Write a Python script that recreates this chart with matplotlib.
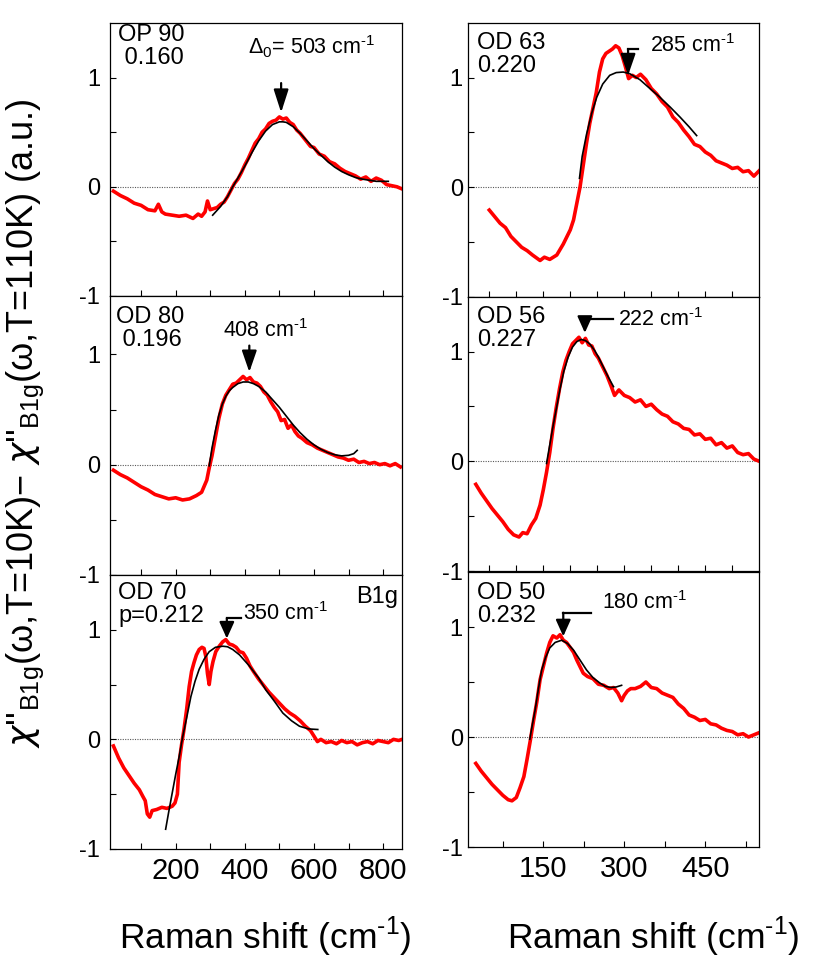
import matplotlib.pyplot as plt
from matplotlib.ticker import FixedLocator

plt.rcParams['font.family'] = ['Liberation Sans', 'DejaVu Sans']
plt.rcParams['mathtext.fontset'] = 'custom'
plt.rcParams['mathtext.rm'] = 'Liberation Sans'
plt.rcParams['mathtext.it'] = 'DejaVu Sans:italic'
plt.rcParams['mathtext.bf'] = 'Liberation Sans:bold'

# OP 90 (top left)
op90_x = [20, 40, 60, 80, 100, 120, 140, 150, 160, 170, 190, 210, 230, 250, 265, 275, 285, 292,
          300, 310, 320, 330, 340, 350, 360, 370, 380, 390, 400, 410, 420, 430, 440, 450, 460,
          470, 480, 490, 500, 510, 520, 530, 540, 550, 560, 570, 580, 590, 600, 615, 630, 645,
          660, 675, 690, 705, 720, 735, 750, 765, 780, 795, 810, 825, 840, 855]
op90_y = [-0.04, -0.08, -0.11, -0.15, -0.17, -0.21, -0.22, -0.16, -0.23, -0.25, -0.26, -0.27,
          -0.26, -0.29, -0.25, -0.27, -0.23, -0.13, -0.21, -0.20, -0.19, -0.16, -0.14, -0.09,
          -0.03, 0.03, 0.07, 0.13, 0.20, 0.26, 0.33, 0.40, 0.44, 0.50, 0.53, 0.58, 0.60, 0.61,
          0.64, 0.62, 0.63, 0.59, 0.57, 0.52, 0.49, 0.45, 0.41, 0.37, 0.36, 0.30, 0.28, 0.23,
          0.21, 0.17, 0.14, 0.12, 0.10, 0.07, 0.09, 0.05, 0.08, 0.06, 0.02, 0.01, 0.0, -0.02]
op90_fit_x = [307, 330, 350, 365, 380, 400, 420, 440, 460, 480, 500, 510, 520, 540, 560, 580,
              600, 620, 640, 660, 680, 700, 720, 740, 760, 780, 800, 815]
op90_fit_y = [-0.26, -0.18, -0.09, 0.0, 0.08, 0.19, 0.31, 0.42, 0.51, 0.57, 0.595, 0.595, 0.59,
              0.55, 0.49, 0.42, 0.35, 0.29, 0.23, 0.18, 0.14, 0.11, 0.085, 0.07, 0.06, 0.05,
              0.05, 0.05]

# OD 80 (middle left)
od80_x = [20, 40, 60, 80, 100, 120, 140, 160, 180, 200, 220, 240, 260, 275, 290, 297, 305, 315,
          325, 335, 345, 355, 365, 375, 385, 395, 405, 415, 425, 435, 445, 455, 465, 475, 485,
          495, 505, 515, 525, 535, 545, 555, 565, 580, 595, 610, 625, 640, 655, 670, 685, 700,
          715, 730, 745, 760, 775, 790, 805, 820, 835, 850]
od80_y = [-0.05, -0.09, -0.12, -0.16, -0.20, -0.23, -0.27, -0.29, -0.31, -0.30, -0.32, -0.31,
          -0.28, -0.25, -0.14, -0.03, 0.08, 0.25, 0.42, 0.55, 0.63, 0.68, 0.73, 0.74, 0.77,
          0.80, 0.77, 0.79, 0.75, 0.74, 0.71, 0.66, 0.63, 0.57, 0.52, 0.48, 0.40, 0.41, 0.33,
          0.36, 0.30, 0.26, 0.24, 0.20, 0.18, 0.15, 0.13, 0.11, 0.09, 0.07, 0.06, 0.04, 0.05,
          0.02, 0.03, 0.01, 0.02, 0.0, 0.01, -0.01, 0.01, -0.02]
od80_fit_x = [297, 305, 315, 325, 335, 345, 355, 365, 380, 395, 410, 425, 440, 460, 480, 500,
              520, 540, 560, 580, 600, 620, 640, 660, 680, 700, 715, 725]
od80_fit_y = [-0.01, 0.15, 0.31, 0.45, 0.55, 0.62, 0.67, 0.70, 0.735, 0.75, 0.75, 0.735, 0.71,
              0.66, 0.59, 0.52, 0.44, 0.36, 0.29, 0.23, 0.18, 0.14, 0.11, 0.09, 0.08, 0.085,
              0.10, 0.13]

# OD 70 (bottom left)
od70_x = [20, 35, 50, 65, 80, 95, 105, 112, 118, 125, 132, 145, 160, 175, 190, 198, 205, 210,
          217, 224, 232, 239, 246, 253, 260, 268, 276, 282, 287, 292, 297, 302, 308, 316, 326,
          336, 345, 355, 365, 375, 385, 395, 405, 415, 425, 440, 455, 470, 485, 500, 515, 530,
          545, 560, 575, 590, 600, 610, 620, 635, 650, 665, 680, 695, 710, 725, 740, 755, 770,
          785, 800, 815, 830, 845, 855]
od70_y = [-0.06, -0.17, -0.26, -0.33, -0.40, -0.46, -0.52, -0.56, -0.68, -0.71, -0.65, -0.64,
          -0.62, -0.63, -0.61, -0.58, -0.50, -0.21, -0.05, 0.09, 0.28, 0.48, 0.62, 0.70, 0.77,
          0.82, 0.84, 0.83, 0.76, 0.60, 0.50, 0.62, 0.71, 0.80, 0.85, 0.89, 0.91, 0.87, 0.86,
          0.84, 0.80, 0.79, 0.74, 0.67, 0.62, 0.55, 0.49, 0.43, 0.38, 0.33, 0.28, 0.24, 0.21,
          0.17, 0.12, 0.08, 0.03, -0.02, 0.0, -0.03, -0.02, -0.04, -0.01, -0.03, -0.02, -0.05,
          -0.03, -0.02, -0.04, -0.01, -0.02, -0.03, 0.0, -0.01, 0.0]
od70_fit_x = [171, 180, 190, 200, 210, 220, 232, 244, 256, 268, 282, 297, 315, 336, 350, 365,
              385, 413, 440, 461, 485, 510, 535, 558, 585, 611]
od70_fit_y = [-0.82, -0.66, -0.49, -0.32, -0.16, 0.02, 0.20, 0.39, 0.53, 0.64, 0.73, 0.80,
              0.84, 0.85, 0.845, 0.82, 0.77, 0.67, 0.56, 0.45, 0.35, 0.24, 0.17, 0.12, 0.095,
              0.09]

# OD 63 (top right)
od63_x = [50, 60, 70, 80, 90, 100, 110, 120, 130, 144, 152, 162, 175, 187, 200, 206, 212, 218,
          224, 230, 236, 242, 248, 254, 260, 266, 272, 278, 284, 290, 296, 302, 308, 315, 322,
          330, 340, 350, 360, 370, 380, 390, 400, 410, 420, 430, 440, 450, 460, 470, 480, 490,
          500, 510, 520, 530, 540, 550]
od63_y = [-0.21, -0.27, -0.33, -0.37, -0.45, -0.50, -0.55, -0.58, -0.62, -0.67, -0.64, -0.66,
          -0.62, -0.52, -0.39, -0.30, -0.15, 0.0, 0.20, 0.40, 0.58, 0.72, 0.86, 1.05, 1.17,
          1.22, 1.24, 1.26, 1.29, 1.27, 1.20, 1.10, 0.99, 1.02, 1.00, 1.03, 0.98, 0.90, 0.85,
          0.78, 0.73, 0.64, 0.59, 0.52, 0.46, 0.39, 0.37, 0.32, 0.29, 0.24, 0.22, 0.20, 0.17,
          0.18, 0.14, 0.15, 0.10, 0.15]
od63_fit_x = [217, 222, 230, 240, 249, 260, 273, 285, 298, 310, 329, 345, 366, 385, 403, 420, 434]
od63_fit_y = [0.08, 0.28, 0.48, 0.68, 0.82, 0.94, 1.02, 1.045, 1.05, 1.035, 0.98, 0.91, 0.82,
              0.73, 0.64, 0.55, 0.47]

# OD 56 (middle right)
od56_x = [25, 35, 45, 55, 65, 75, 85, 95, 105, 112, 120, 128, 136, 144, 150, 156, 162, 168,
          174, 180, 186, 192, 198, 204, 210, 216, 222, 228, 234, 240, 246, 252, 260, 268, 276,
          282, 290, 300, 310, 320, 330, 340, 350, 360, 370, 380, 390, 400, 410, 420, 430, 440,
          450, 460, 470, 480, 490, 500, 510, 520, 530, 540, 550]
od56_y = [-0.21, -0.29, -0.36, -0.43, -0.49, -0.55, -0.62, -0.67, -0.69, -0.65, -0.66, -0.58,
          -0.52, -0.40, -0.26, -0.10, 0.08, 0.30, 0.49, 0.66, 0.81, 0.92, 1.0, 1.07, 1.10, 1.13,
          1.08, 1.12, 1.06, 1.05, 0.98, 0.94, 0.86, 0.78, 0.68, 0.60, 0.65, 0.60, 0.58, 0.54,
          0.56, 0.50, 0.52, 0.47, 0.43, 0.41, 0.36, 0.34, 0.30, 0.29, 0.24, 0.25, 0.20, 0.21,
          0.15, 0.17, 0.12, 0.14, 0.08, 0.06, 0.07, 0.02, 0.0]
od56_fit_x = [156, 162, 168, 175, 181, 188, 196, 204, 212, 220, 228, 236, 245, 252, 260, 270, 280]
od56_fit_y = [-0.02, 0.15, 0.32, 0.50, 0.66, 0.82, 0.95, 1.04, 1.09, 1.11, 1.10, 1.07, 1.01,
              0.95, 0.87, 0.77, 0.68]

# OD 50 (bottom right)
od50_x = [25, 35, 45, 55, 65, 75, 85, 92, 100, 107, 114, 120, 126, 132, 138, 144, 150, 156,
          162, 168, 175, 181, 187, 193, 199, 206, 212, 218, 224, 232, 242, 252, 262, 272, 280,
          288, 295, 300, 306, 312, 320, 330, 340, 350, 360, 370, 380, 390, 400, 410, 420, 430,
          440, 450, 460, 470, 480, 490, 500, 510, 520, 530, 540, 550]
od50_y = [-0.24, -0.31, -0.37, -0.43, -0.48, -0.53, -0.57, -0.58, -0.55, -0.46, -0.36, -0.20,
          -0.03, 0.15, 0.32, 0.52, 0.64, 0.76, 0.86, 0.92, 0.90, 0.93, 0.88, 0.86, 0.82, 0.77,
          0.70, 0.64, 0.58, 0.55, 0.53, 0.48, 0.47, 0.44, 0.45, 0.40, 0.33, 0.38, 0.42, 0.44,
          0.44, 0.46, 0.50, 0.45, 0.44, 0.40, 0.38, 0.36, 0.30, 0.26, 0.20, 0.18, 0.15, 0.16,
          0.12, 0.11, 0.08, 0.06, 0.05, 0.02, 0.03, 0.0, 0.02, 0.04]
od50_fit_x = [125, 130, 135, 141, 147, 154, 162, 172, 184, 195, 206, 218, 230, 242, 255, 265,
              276, 285, 295]
od50_fit_y = [-0.02, 0.12, 0.25, 0.44, 0.61, 0.72, 0.81, 0.86, 0.88, 0.85, 0.79, 0.70, 0.61,
              0.54, 0.49, 0.46, 0.45, 0.455, 0.47]

fig = plt.figure(figsize=(8.3, 9.8), dpi=100)

ax_tl = fig.add_axes([0.1325, 0.698, 0.352, 0.2785])
ax_ml = fig.add_axes([0.1325, 0.4133, 0.352, 0.2847])
ax_bl = fig.add_axes([0.1325, 0.1337, 0.352, 0.2796])
ax_tr = fig.add_axes([0.5635, 0.6973, 0.3513, 0.2795])
ax_mr = fig.add_axes([0.5635, 0.4173, 0.3513, 0.2800])
ax_br = fig.add_axes([0.5635, 0.1357, 0.3513, 0.2806])

panels = [
    (ax_tl, op90_x, op90_y, op90_fit_x, op90_fit_y),
    (ax_ml, od80_x, od80_y, od80_fit_x, od80_fit_y),
    (ax_bl, od70_x, od70_y, od70_fit_x, od70_fit_y),
    (ax_tr, od63_x, od63_y, od63_fit_x, od63_fit_y),
    (ax_mr, od56_x, od56_y, od56_fit_x, od56_fit_y),
    (ax_br, od50_x, od50_y, od50_fit_x, od50_fit_y),
]

for ax, x, y, fx, fy in panels:
    ax.axhline(0, color='0.35', ls=(0, (1, 1.2)), lw=0.8, zorder=1)
    ax.plot(x, y, color='#ff0000', lw=2.6, zorder=2)
    ax.plot(fx, fy, color='black', lw=1.2, zorder=3)
    ax.set_ylim(-1, 1.5)
    ax.yaxis.set_major_locator(FixedLocator([-1, 0, 1]))
    ax.yaxis.set_minor_locator(FixedLocator([-0.5, 0.5]))
    ax.set_yticklabels(['-1', '0', '1'])
    ax.tick_params(which='both', direction='in', length=4, width=0.8, top=False, right=False)
    ax.tick_params(axis='y', labelsize=17)
    ax.tick_params(axis='x', labelsize=21, pad=6)
    for s in ax.spines.values():
        s.set_linewidth(0.9)
ax_ml.set_ylim(-1, 1.53)

for ax in (ax_tl, ax_ml, ax_bl):
    ax.set_xlim(10, 855)
    ax.xaxis.set_major_locator(FixedLocator([200, 400, 600, 800]))
    ax.xaxis.set_minor_locator(FixedLocator([100, 300, 500, 700]))
    ax.tick_params(axis='y', pad=7)
for ax in (ax_tr, ax_mr, ax_br):
    ax.set_xlim(10, 550)
    ax.tick_params(axis='y', pad=3.5)
for ax in (ax_tr, ax_mr):
    ax.xaxis.set_major_locator(FixedLocator([50, 100, 150, 200, 250, 300, 350, 400, 450, 500]))
ax_br.xaxis.set_major_locator(FixedLocator([150, 300, 450]))
ax_br.xaxis.set_minor_locator(FixedLocator([75, 225, 375, 525]))
for ax in (ax_tl, ax_ml, ax_tr, ax_mr):
    ax.tick_params(axis='x', labelbottom=False)

# sample labels
lab = dict(ha='left', va='top', fontsize=17, linespacing=1.05)
ax_tl.text(0.028, 0.995, 'OP 90\n 0.160', transform=ax_tl.transAxes, **lab)
ax_ml.text(0.022, 0.965, 'OD 80\n 0.196', transform=ax_ml.transAxes, **lab)
ax_bl.text(0.028, 0.975, 'OD 70\np=0.212', transform=ax_bl.transAxes, **lab)
ax_tr.text(0.031, 0.965, 'OD 63\n0.220', transform=ax_tr.transAxes, **lab)
ax_mr.text(0.031, 0.965, 'OD 56\n0.227', transform=ax_mr.transAxes, **lab)
ax_br.text(0.031, 0.965, 'OD 50\n0.232', transform=ax_br.transAxes, **lab)
ax_bl.text(0.985, 0.96, 'B1g', transform=ax_bl.transAxes, ha='right', va='top', fontsize=17)

# gap energies
ann = dict(ha='left', va='baseline', fontsize=15.5)
ax_tl.text(408, 1.21, r'$\Delta_0$= 503 cm$^{\text{-}1}$', **ann)
ax_ml.text(336, 1.16, r'408 cm$^{\text{-}1}$', **ann)
ax_bl.text(394, 1.09, r'350 cm$^{\text{-}1}$', **ann)
ax_tr.text(347, 1.23, r'285 cm$^{\text{-}1}$', **ann)
ax_mr.text(289, 1.235, r'222 cm$^{\text{-}1}$', **ann)
ax_br.text(258, 1.16, r'180 cm$^{\text{-}1}$', **ann)


def arrow(ax, x, tail, tip, hl=1.1, hw=0.45):
    ax.annotate('', xy=(x, tip), xytext=(x, tail),
                arrowprops=dict(arrowstyle='-|>,head_length=%g,head_width=%g' % (hl, hw),
                                color='black', lw=1.6, shrinkA=0, shrinkB=0,
                                mutation_scale=10))


arrow(ax_tl, 505, 0.95, 0.68, hl=1.4)
arrow(ax_ml, 413, 1.08, 0.84, hl=1.3)
arrow(ax_bl, 348, 1.106, 0.92, hl=1.0)
arrow(ax_tr, 307, 1.26, 1.02, hl=1.3)
arrow(ax_mr, 227, 1.30, 1.17, hl=1.0)
arrow(ax_br, 187, 1.13, 0.915, hl=1.0)
ax_bl.plot([348, 389], [1.106, 1.106], color='black', lw=1.6)
ax_tr.plot([307, 326], [1.26, 1.26], color='black', lw=1.6)
ax_mr.plot([227, 279], [1.30, 1.30], color='black', lw=1.6)
ax_br.plot([187, 239], [1.13, 1.13], color='black', lw=1.6)

fig.text(0.32, 0.044, r'Raman shift (cm$^{\text{-}1}$)', ha='center', va='center', fontsize=25.5)
fig.text(0.787, 0.044, r'Raman shift (cm$^{\text{-}1}$)', ha='center', va='center', fontsize=25.5)
fig.text(0.03, 0.568,
         r"$\chi$''$_{\mathrm{B1g}}$(ω,T=10K)$-$ $\chi$''$_{\mathrm{B1g}}$(ω,T=110K) (a.u.)",
         rotation=90, ha='center', va='center', fontsize=26)

fig.savefig('out.png', dpi=100)
